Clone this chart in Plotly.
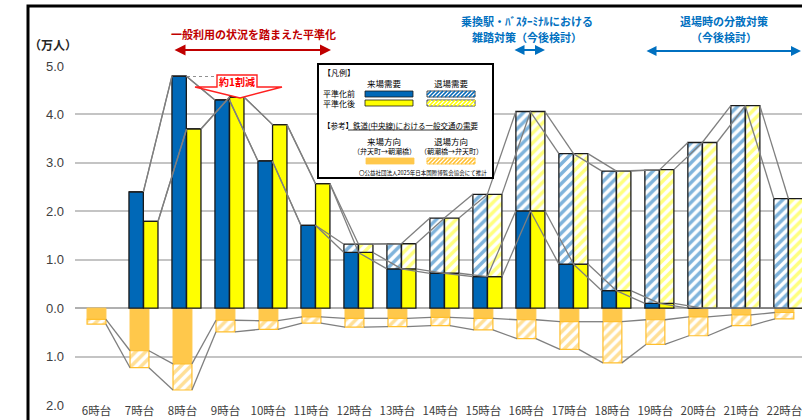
import plotly.graph_objects as go

# ---------------- data ----------------
hours = list(range(6, 23))
hour_labels = [f"{h}時台" for h in hours]

# 平準化前 (before smoothing): 来場需要 / 退場需要 (万人)
before_arrival = [None, 2.40, 4.79, 4.30, 3.04, 1.71, 1.15, 0.81, 0.72, 0.65, 2.01, 0.91, 0.36, 0.10, 0.0, 0.0, 0.0]
before_departure = [None, 0.0, 0.0, 0.0, 0.0, 0.0, 0.17, 0.52, 1.14, 1.70, 2.05, 2.28, 2.47, 2.75, 3.42, 4.18, 2.26]
# 平準化後 (after smoothing)
after_arrival = [None, 1.79, 3.70, 4.36, 3.79, 2.57, 1.15, 0.81, 0.72, 0.65, 2.01, 0.91, 0.36, 0.10, 0.0, 0.0, 0.0]
after_departure = [None, 0.0, 0.0, 0.0, 0.0, 0.0, 0.17, 0.52, 1.14, 1.70, 2.05, 2.28, 2.47, 2.76, 3.42, 4.18, 2.26]
# 鉄道(中央線) 一般交通の需要 (drawn downward)
rail_arrival = [0.23, 0.88, 1.15, 0.25, 0.26, 0.18, 0.21, 0.21, 0.19, 0.21, 0.24, 0.28, 0.28, 0.24, 0.18, 0.14, 0.09]
rail_departure = [0.10, 0.35, 0.54, 0.24, 0.18, 0.13, 0.18, 0.17, 0.17, 0.24, 0.39, 0.57, 0.85, 0.51, 0.39, 0.22, 0.13]

ytick_vals = [-2, -1, 0, 1, 2, 3, 4, 5]
ytick_text = ["2.0", "1.0", "0.0", "1.0", "2.0", "3.0", "4.0", "5.0"]

# ---------------- style ----------------
BLUE = "#0068b7"
YELLOW = "#ffff00"
ORANGE = "#ffc84b"
ORANGE_H = "#ffbf2e"
GRAY_LINE = "#7f7f7f"
RED = "#c00000"
TBLUE = "#0070c0"
FONT = "Noto Sans CJK JP"

W, H = 802, 420
L, R, T, B = 75, 0, 66, 15
PW, PH = W - L - R, H - T - B


def pxx(px):
    return (px - L) / PW


def pyy(py):
    return (H - B - py) / PH


OFF_BEFORE, OFF_AFTER, BW = -0.245, 0.095, 0.335
OFF_RAIL, RW = -0.22, 0.44


def add(a, b):
    return [None if (x is None or y is None) else x + y for x, y in zip(a, b)]


def neg(a):
    return [None if x is None else -x for x in a]


fig = go.Figure()

edge = dict(color="#1a1a1a", width=1.3)


def pat(fg):
    return dict(shape="/", fgcolor=fg, bgcolor="white", size=7, solidity=0.5)


# rail bars (below zero)
fig.add_trace(go.Bar(x=hours, y=neg(rail_arrival), base=0, offset=OFF_RAIL, width=RW,
                     marker=dict(color=ORANGE, line=dict(color=ORANGE, width=1))))
fig.add_trace(go.Bar(x=hours, y=neg(rail_departure), base=neg(rail_arrival), offset=OFF_RAIL, width=RW,
                     marker=dict(color="white", line=dict(color=ORANGE_H, width=1.2), pattern=pat(ORANGE_H))))

# before / after bars
fig.add_trace(go.Bar(x=hours, y=before_arrival, base=0, offset=OFF_BEFORE, width=BW,
                     marker=dict(color=BLUE, line=edge)))
fig.add_trace(go.Bar(x=hours, y=before_departure, base=before_arrival, offset=OFF_BEFORE, width=BW,
                     marker=dict(color="white", line=edge, pattern=pat(BLUE))))
fig.add_trace(go.Bar(x=hours, y=after_arrival, base=0, offset=OFF_AFTER, width=BW,
                     marker=dict(color=YELLOW, line=edge)))
fig.add_trace(go.Bar(x=hours, y=after_departure, base=after_arrival, offset=OFF_AFTER, width=BW,
                     marker=dict(color="white", line=edge, pattern=pat(YELLOW))))


# series lines (connect right edge of a bar to left edge of next bar)
def series_line(vals, off, wid):
    xs, ys = [], []
    for i in range(len(hours) - 1):
        a, b = vals[i], vals[i + 1]
        if a is None or b is None:
            continue
        xs += [hours[i] + off + wid, hours[i + 1] + off, None]
        ys += [a, b, None]
    return go.Scatter(x=xs, y=ys, mode="lines", line=dict(color=GRAY_LINE, width=1.3),
                      hoverinfo="skip", connectgaps=False)


fig.add_trace(series_line(before_arrival, OFF_BEFORE, BW))
fig.add_trace(series_line(add(before_arrival, before_departure), OFF_BEFORE, BW))
fig.add_trace(series_line(after_arrival, OFF_AFTER, BW))
fig.add_trace(series_line(add(after_arrival, after_departure), OFF_AFTER, BW))
fig.add_trace(series_line(neg(rail_arrival), OFF_RAIL, RW))
fig.add_trace(series_line(neg(add(rail_arrival, rail_departure)), OFF_RAIL, RW))

shapes = []
annotations = []


def text(px, py, s, size, color="#000000", anchor="center", bold=False):
    annotations.append(dict(x=pxx(px), y=pyy(py), xref="paper", yref="paper", text=(f"<b>{s}</b>" if bold else s),
                            showarrow=False, xanchor=anchor, yanchor="middle", borderpad=0,
                            font=dict(family=FONT, size=size, color=color)))


def rect(x0, y0, x1, y1, fill, line_color, lw=1.0):
    shapes.append(dict(type="rect", xref="paper", yref="paper", x0=pxx(x0), x1=pxx(x1), y0=pyy(y1), y1=pyy(y0),
                       fillcolor=fill, line=dict(color=line_color, width=lw), layer="above"))


def hatch(x0, y0, x1, y1, color, step=4.0):
    h = y1 - y0
    segs = []
    s = x0 - h
    while s < x1:
        ax, ay = s, y1
        bx, by = s + h, y0
        if ax < x0:
            ay = y1 - (x0 - ax)
            ax = x0
        if bx > x1:
            by = y0 + (bx - x1)
            bx = x1
        if bx > ax:
            segs.append(f"M{pxx(ax):.5f},{pyy(ay):.5f} L{pxx(bx):.5f},{pyy(by):.5f}")
        s += step
    shapes.append(dict(type="path", xref="paper", yref="paper", path=" ".join(segs),
                       line=dict(color=color, width=1.6), layer="above"))


def arrow(x0, x1, y, color, width):
    annotations.append(dict(x=pxx(x1), y=pyy(y), xref="paper", yref="paper", ax=-(x1 - x0), ay=0,
                            axref="pixel", ayref="pixel", text="", showarrow=True, arrowside="end+start",
                            arrowhead=2, arrowsize=1.0, arrowwidth=width, arrowcolor=color, standoff=0,
                            startstandoff=0))


# outer frame
shapes.append(dict(type="rect", xref="paper", yref="paper", x0=pxx(28), x1=pxx(830), y0=pyy(440), y1=pyy(6),
                   line=dict(color="black", width=3), fillcolor="rgba(0,0,0,0)", layer="above"))

# top annotations
text(53, 45, "（万人）", 12, "#262626", bold=True)
text(253, 34, "一般利用の状況を踏まえた平準化", 11, RED, bold=True)
arrow(173, 331, 50, RED, 2.2)
text(527, 21, "乗換駅・ﾊﾞｽﾀｰﾐﾅﾙにおける", 11, TBLUE, bold=True)
text(527, 37, "雑踏対策（今後検討）", 11, TBLUE, bold=True)
arrow(513, 545, 50, TBLUE, 2.0)
text(724, 21, "退場時の分散対策", 11, TBLUE, bold=True)
text(724, 37, "（今後検討）", 11, TBLUE, bold=True)
arrow(645, 801, 51, TBLUE, 2.0)

# 約1割減 callout
shapes.append(dict(type="line", xref="paper", yref="paper", x0=pxx(187), x1=pxx(217), y0=pyy(76.5), y1=pyy(76.5),
                   line=dict(color="#909090", width=1, dash="dot"), layer="above"))
poly = [(217, 75), (257, 75), (257, 87), (282, 87), (240, 98), (195, 87), (217, 87)]
path = "M" + " L".join(f"{pxx(a):.5f},{pyy(b):.5f}" for a, b in poly) + " Z"
shapes.append(dict(type="path", xref="paper", yref="paper", path=path, fillcolor="white",
                   line=dict(color="#ff2020", width=1.4), layer="above"))
text(237, 81.5, "約1割減", 10, "#ff0000", bold=True)

# custom legend box
rect(318, 64, 493, 178, "white", "black", 2)
text(322, 73, "【凡例】", 8, anchor="left")
text(384, 83, "来場需要", 8.5)
text(451, 83, "退場需要", 8.5)
text(322, 93, "平準化前", 8, anchor="left")
text(322, 103.5, "平準化後", 8, anchor="left")
rect(365, 91, 413, 97, BLUE, "#1a1a1a", 0.8)
rect(427, 91, 475, 97, "white", "#1a1a1a", 0.8)
hatch(427, 91, 475, 97, BLUE)
rect(365, 100, 413, 106, YELLOW, "#1a1a1a", 0.8)
rect(427, 100, 475, 106, "white", "#1a1a1a", 0.8)
hatch(427, 100, 475, 106, YELLOW)
text(322, 125, "【参考】鉄道(中央線)における一般交通の需要", 7.5, anchor="left")
shapes.append(dict(type="line", xref="paper", yref="paper", x0=pxx(348), x1=pxx(472), y0=pyy(130), y1=pyy(130),
                   line=dict(color="black", width=0.8), layer="above"))
text(384, 141, "来場方向", 8.5)
text(451, 141, "退場方向", 8.5)
text(384, 151, "（弁天町→朝潮橋）", 7)
text(451, 151, "（朝潮橋→弁天町）", 7)
rect(366, 158, 414, 164, ORANGE, ORANGE, 0.8)
rect(427, 158, 475, 164, "white", ORANGE_H, 0.8)
hatch(427, 158, 475, 164, ORANGE_H)
text(488, 173, "〇公益社団法人2025年日本国際博覧会協会にて推計", 5.5, anchor="right")

fig.update_layout(
    width=W, height=H,
    margin=dict(l=L, r=R, t=T, b=B, pad=0, autoexpand=False),
    paper_bgcolor="white", plot_bgcolor="white",
    barmode="overlay", showlegend=False,
    font=dict(family=FONT, color="#404040"),
    shapes=shapes, annotations=annotations,
    xaxis=dict(range=[5.5, 22.41], tickvals=hours, ticktext=hour_labels, showgrid=False, zeroline=False,
               showline=False, ticks="", automargin=False, ticklabelstandoff=-3, ticklabeloverflow="allow",
               tickfont=dict(size=11.5, color="#404040", family=FONT), fixedrange=True),
    yaxis=dict(range=[-2, 5], tickvals=ytick_vals, ticktext=ytick_text, showgrid=True, gridcolor="#c4c4c4",
               gridwidth=1.6, zeroline=True, zerolinecolor="#b0b0b0", zerolinewidth=1.6, showline=False,
               ticks="", automargin=False, ticklabelstandoff=10, ticklabeloverflow="allow",
               tickfont=dict(size=13, color="#404040", family="Liberation Sans"), fixedrange=True),
)

fig.write_html("out.html", config={"displayModeBar": False},
               post_script="document.body.style.margin='0px';document.body.style.overflow='hidden';")
